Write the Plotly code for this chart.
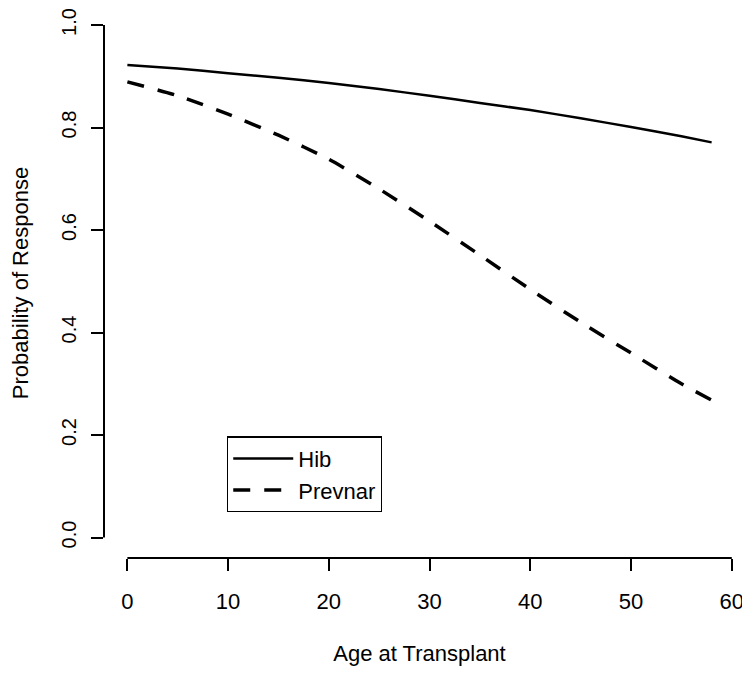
import plotly.graph_objects as go

age = [0, 5, 10, 15, 20, 25, 30, 35, 40, 45, 50, 55, 58]
hib = [0.922, 0.915, 0.906, 0.897, 0.887, 0.875, 0.862, 0.848, 0.834, 0.818, 0.801, 0.783, 0.771]
prevnar = [0.889, 0.862, 0.826, 0.785, 0.738, 0.680, 0.617, 0.551, 0.484, 0.420, 0.360, 0.300, 0.268]

x_ticks = [0, 10, 20, 30, 40, 50, 60]
y_ticks = [0.0, 0.2, 0.4, 0.6, 0.8, 1.0]
y_ticklabels = ["0.0", "0.2", "0.4", "0.6", "0.8", "1.0"]

FONT = "Liberation Sans, Arial, sans-serif"

fig = go.Figure()
fig.add_trace(go.Scatter(x=age, y=hib, mode="lines", name="Hib",
                         line=dict(color="black", width=2.5, shape="spline", smoothing=0.6)))
fig.add_trace(go.Scatter(x=age, y=prevnar, mode="lines", name="Prevnar",
                         line=dict(color="black", width=3.5, dash="17px,14px", shape="spline", smoothing=0.6)))

# page has an 8px body margin, so the figure is 742x670 placed at (8,8)
fig.update_layout(
    width=742, height=670,
    margin=dict(l=96, r=15, t=0, b=120, autoexpand=False),
    paper_bgcolor="white", plot_bgcolor="white",
    font=dict(family=FONT, size=22, color="black"),
    showlegend=True,
    legend=dict(
        x=0.195, y=0.221, xanchor="left", yanchor="top",
        bordercolor="black", borderwidth=1.2, bgcolor="white",
        font=dict(size=22), tracegroupgap=0, itemwidth=60,
    ),
    xaxis=dict(
        range=[-2.32, 60.32], tickvals=x_ticks, ticks="outside", ticklen=12,
        tickwidth=2, tickcolor="black", showgrid=False, zeroline=False,
        showline=False, tickfont=dict(size=22), ticklabelstandoff=12,
        ticklabeloverflow="allow",
        title=dict(text="Age at Transplant", font=dict(size=22), standoff=32),
        automargin=False,
    ),
    yaxis=dict(
        range=[-0.04, 1.0332], tickvals=y_ticks, ticktext=y_ticklabels,
        ticks="outside", ticklen=12, tickwidth=2, tickcolor="black",
        showgrid=False, zeroline=False, showline=False, tickangle=-90,
        tickfont=dict(size=20), ticklabelstandoff=7,
        ticklabeloverflow="allow",
        title=dict(text="Probability of Response", font=dict(size=22), standoff=24),
        automargin=False,
    ),
)

# R-style axis lines spanning only the tick range
fig.add_shape(type="line", xref="x", yref="paper", x0=x_ticks[0], x1=x_ticks[-1], y0=0, y1=0,
              line=dict(color="black", width=2))
fig.add_shape(type="line", xref="paper", yref="y", x0=0, x1=0, y0=y_ticks[0], y1=y_ticks[-1],
              line=dict(color="black", width=2))

fig.write_html("out.html")
